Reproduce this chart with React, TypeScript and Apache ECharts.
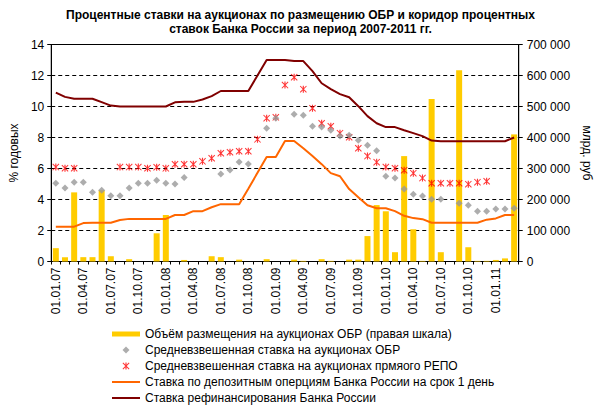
import React, { useEffect, useRef } from "react";
import * as echarts from "echarts";

const categories = [
  "01.01.07", "01.02.07", "01.03.07", "01.04.07", "01.05.07", "01.06.07",
  "01.07.07", "01.08.07", "01.09.07", "01.10.07", "01.11.07", "01.12.07",
  "01.01.08", "01.02.08", "01.03.08", "01.04.08", "01.05.08", "01.06.08",
  "01.07.08", "01.08.08", "01.09.08", "01.10.08", "01.11.08", "01.12.08",
  "01.01.09", "01.02.09", "01.03.09", "01.04.09", "01.05.09", "01.06.09",
  "01.07.09", "01.08.09", "01.09.09", "01.10.09", "01.11.09", "01.12.09",
  "01.01.10", "01.02.10", "01.03.10", "01.04.10", "01.05.10", "01.06.10",
  "01.07.10", "01.08.10", "01.09.10", "01.10.10", "01.11.10", "01.12.10",
  "01.01.11", "01.02.11", "01.03.11",
];

// Объём размещения ОБР, млн руб. (правая шкала)
const obrVolume = [
  43000, 14000, 223000, 14000, 14000, 230000, 17000, null, 7500, null,
  null, 91000, 150000, null, 5000, null, null, 17000, 14000, null,
  6000, null, null, 7500, null, null, 6000, 2000, null, 7500,
  2000, null, 6000, 6000, 82000, 182000, 162000, 30000, 340000, 104000,
  2000, 524000, 30000, null, 617000, 46000, 2000, 2000, 5000, 10000,
  410000,
];

// Средневзвешенная ставка на аукционах ОБР
const obrRate = [
  5.05, 4.75, 5.12, 5.12, 4.47, 4.6, 4.24, 4.24, 4.75, 5.05,
  5.05, 5.25, 5.05, 5.0, 5.42, null, null, null, 5.64, 5.9,
  6.42, 6.29, null, 8.6, 9.25, null, 9.5, 9.44, 8.73, 8.67,
  8.47, 8.09, 8.15, 7.83, 7.5, 7.14, 5.5, 5.38, 4.67, 4.34,
  4.22, 4.02, 4.02, null, 3.76, 3.63, 3.25, 3.25, 3.38, 3.38,
  3.44,
];

// Средневзвешенная ставка на аукционах прямого РЕПО
const repoRate = [
  6.09, 6.02, 6.02, null, null, null, null, 6.09, 6.09, 6.09,
  6.02, 6.08, 6.01, 6.27, 6.27, 6.27, 6.46, 6.66, 6.98, 7.05,
  7.11, 7.11, 7.88, 9.25, 9.3, 11.38, 11.89, 11.12, 9.89, 8.92,
  8.73, 8.28, 8.02, 7.31, 6.8, 6.41, 6.09, 6.02, 5.89, 5.7,
  5.38, 5.05, 5.05, 5.05, 5.05, 4.99, 5.12, 5.18, null, null,
  null,
];

// Ставка по депозитным операциям на срок 1 день
const depositRate = [
  2.24, 2.25, 2.25, 2.48, 2.5, 2.5, 2.5, 2.68, 2.75, 2.75,
  2.75, 2.75, 2.75, 3.0, 3.0, 3.25, 3.25, 3.5, 3.7, 3.7,
  3.7, 4.7, 5.72, 6.74, 6.74, 7.78, 7.78, 7.31, 6.8, 6.28,
  5.7, 5.5, 4.67, 4.15, 3.63, 3.44, 3.44, 3.25, 2.95, 2.8,
  2.73, 2.5, 2.5, 2.5, 2.5, 2.5, 2.5, 2.7, 2.78, 3.0,
  3.0,
];

// Ставка рефинансирования
const refinRate = [
  10.9, 10.62, 10.5, 10.5, 10.5, 10.28, 10.06, 10.0, 10.0, 10.0,
  10.0, 10.0, 10.0, 10.27, 10.3, 10.3, 10.45, 10.67, 11.0, 11.0,
  11.0, 11.0, 12.0, 13.0, 13.0, 13.0, 12.93, 12.93, 12.28, 11.5,
  11.12, 10.8, 10.6, 10.02, 9.38, 8.92, 8.67, 8.67, 8.47, 8.28,
  8.09, 7.8, 7.76, 7.76, 7.76, 7.76, 7.76, 7.76, 7.76, 7.76,
  8.0,
];

const seriesNames = [
  "Объём размещения на аукционах ОБР (правая шкала)",
  "Средневзвешенная ставка на аукционах ОБР",
  "Средневзвешенная ставка на аукционах прмяого РЕПО",
  "Ставка по депозитным оперциям Банка России на срок 1 день",
  "Ставка рефинансирования Банка России",
];

const FONT = "'Liberation Sans', Arial, sans-serif";
const ASTERISK =
  "path://M4.2,0L5.8,0L5.8,10L4.2,10ZM0,1L1,0L10,9L9,10ZM9,0L10,1L1,10L0,9Z";
const ASTERISK_ICON =
  "path://M0,0M13.44,2.5L14.56,2.5L14.56,9.5L13.44,9.5ZM10.5,3.2L11.2,2.5L17.5,8.8L16.8,9.5ZM16.8,2.5L17.5,3.2L11.2,9.5L10.5,8.8ZM28,12";
const DIAMOND_ICON = "path://M0,0M14,2.5L17.5,6L14,9.5L10.5,6ZM28,12";
const BAR_ICON = "path://M0,0M0,3.5L28,3.5L28,8.5L0,8.5ZM28,12";
const LINE_ICON = "path://M0,0M0,5L28,5L28,7L0,7ZM28,12";

function thousands(v: number): string {
  return String(v).replace(/\B(?=(\d{3})+(?!\d))/g, " ");
}

export default function App() {
  const ref = useRef<HTMLDivElement>(null);
  useEffect(() => {
    if (!ref.current) return;
    const chart = echarts.init(ref.current, null, { renderer: "svg" });
    chart.setOption({
      animation: false,
      backgroundColor: "#ffffff",
      textStyle: { fontFamily: FONT, color: "#000" },
      title: {
        text:
          "Процентные ставки на аукционах по размещению ОБР и коридор процентных\nставок Банка России за период 2007-2011 гг.",
        left: "center",
        top: 3,
        textStyle: {
          fontFamily: FONT,
          fontSize: 12,
          fontWeight: "bold",
          color: "#000",
          lineHeight: 14,
        },
      },
      grid: {
        left: 43,
        right: 73,
        top: 44.5,
        bottom: 151.5,
        show: true,
        borderColor: "#000",
        borderWidth: 1,
        backgroundColor: "transparent",
      },
      legend: {
        orient: "vertical",
        left: 107,
        top: 323,
        itemWidth: 28,
        itemHeight: 12,
        itemGap: 4,
        selectedMode: false,
        textStyle: { fontFamily: FONT, fontSize: 12, color: "#000", lineHeight: 12 },
        data: [
          { name: seriesNames[0], icon: BAR_ICON },
          { name: seriesNames[1], icon: DIAMOND_ICON },
          { name: seriesNames[2], icon: ASTERISK_ICON },
          { name: seriesNames[3], icon: LINE_ICON },
          { name: seriesNames[4], icon: LINE_ICON },
        ],
      },
      xAxis: {
        type: "category",
        data: categories,
        boundaryGap: true,
        axisLine: { lineStyle: { color: "#000", width: 1 } },
        axisTick: { show: true, interval: 0, length: 3, lineStyle: { color: "#000" } },
        axisLabel: {
          interval: 2,
          rotate: 90,
          fontSize: 12,
          color: "#000",
          margin: 6,
          fontFamily: FONT,
        },
        splitLine: { show: false },
      },
      yAxis: [
        {
          type: "value",
          min: 0,
          max: 14,
          interval: 2,
          name: "% годовых",
          nameLocation: "middle",
          nameRotate: 90,
          nameGap: 26,
          nameTextStyle: { fontSize: 12, color: "#000", fontFamily: FONT },
          axisLine: { show: true, lineStyle: { color: "#000" } },
          axisTick: { show: true, length: 4, lineStyle: { color: "#000" } },
          axisLabel: { fontSize: 12, color: "#000", margin: 7, fontFamily: FONT },
          splitLine: { show: true, lineStyle: { color: "#000", type: [4, 3], width: 1 } },
        },
        {
          type: "value",
          min: 0,
          max: 700000,
          interval: 100000,
          position: "right",
          name: "млрд. руб",
          nameLocation: "middle",
          nameRotate: -90,
          nameGap: 52,
          nameTextStyle: { fontSize: 12, color: "#000", fontFamily: FONT },
          axisLine: { show: true, lineStyle: { color: "#000" } },
          axisTick: { show: true, length: 4, lineStyle: { color: "#000" } },
          axisLabel: {
            fontSize: 12,
            color: "#000",
            margin: 8,
            fontFamily: FONT,
            formatter: (v: number) => thousands(v),
          },
          splitLine: { show: false },
        },
      ],
      series: [
        {
          name: seriesNames[0],
          type: "bar",
          yAxisIndex: 1,
          data: obrVolume,
          barWidth: 6,
          itemStyle: { color: "#FFCC00" },
        },
        {
          name: seriesNames[3],
          type: "line",
          yAxisIndex: 0,
          data: depositRate,
          symbol: "none",
          lineStyle: { color: "#FF6600", width: 2 },
          itemStyle: { color: "#FF6600" },
        },
        {
          name: seriesNames[4],
          type: "line",
          yAxisIndex: 0,
          data: refinRate,
          symbol: "none",
          lineStyle: { color: "#800000", width: 2 },
          itemStyle: { color: "#800000" },
        },
        {
          name: seriesNames[2],
          type: "scatter",
          yAxisIndex: 0,
          data: repoRate,
          symbol: ASTERISK,
          symbolSize: 7,
          itemStyle: { color: "#FF0000" },
        },
        {
          name: seriesNames[1],
          type: "scatter",
          yAxisIndex: 0,
          data: obrRate,
          symbol: "diamond",
          symbolSize: 7,
          itemStyle: { color: "#999999" },
        },
      ],
    });
    return () => chart.dispose();
  }, []);
  return (
    <div
      ref={ref}
      style={{ position: "fixed", left: 0, top: 0, width: 601, height: 413, background: "#fff" }}
    />
  );
}
